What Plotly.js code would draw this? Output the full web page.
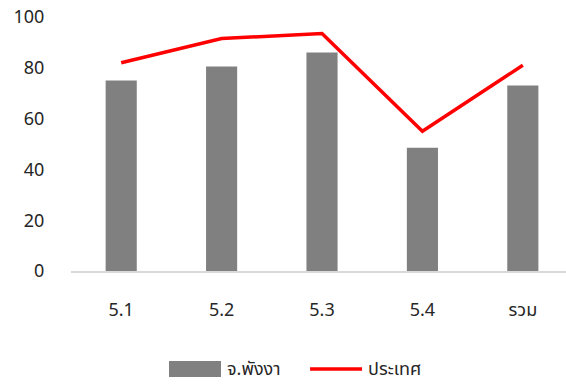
<!DOCTYPE html>
<html><head><meta charset="utf-8">
<script src="https://cdn.plot.ly/plotly-3.0.1.min.js"></script>
<style>html,body{margin:0;padding:0;background:#fff}#chart{width:566px;height:385px}</style>
</head><body><div id="chart"></div>
<script>
const categories = ["5.1", "5.2", "5.3", "5.4", "รวม"];
const phangngaValues = [75, 80.5, 86, 48.5, 73];
const countryValues = [82, 91.5, 93.5, 55, 81];
const seriesNames = ["จ.พังงา", "ประเทศ"];
const barColor = "#808080";
const lineColor = "#ff0000";

const fontFamily = "'Noto Sans Thai', 'Noto Sans', Tahoma, sans-serif";

const traces = [
  {type: "bar", x: categories, y: phangngaValues, name: seriesNames[0],
   marker: {color: barColor}, width: 0.31, showlegend: false},
  {type: "scatter", mode: "lines", x: categories, y: countryValues, name: seriesNames[1],
   line: {color: lineColor, width: 3.5}, showlegend: false}
];

// Custom legend (Excel-style wide swatches), placed in paper coordinates
const legendY = -0.386;
const shapes = [
  {type: "rect", xref: "paper", yref: "paper", x0: 0.198, x1: 0.303, y0: -0.354, y1: -0.417,
   fillcolor: barColor, line: {width: 0}},
  {type: "line", xref: "paper", yref: "paper", x0: 0.483, x1: 0.588, y0: legendY, y1: legendY,
   line: {color: lineColor, width: 3.5}}
];
const annotations = [
  {xref: "paper", yref: "paper", x: 0.311, y: legendY, xanchor: "left", yanchor: "middle",
   text: seriesNames[0], showarrow: false, font: {size: 18}},
  {xref: "paper", yref: "paper", x: 0.596, y: legendY, xanchor: "left", yanchor: "middle",
   text: seriesNames[1], showarrow: false, font: {size: 18}}
];

const layout = {
  width: 566, height: 385,
  margin: {l: 71, r: 0, t: 17, b: 114},
  paper_bgcolor: "#fff", plot_bgcolor: "#fff",
  font: {family: fontFamily, size: 18, color: "#262626"},
  showlegend: false,
  shapes: shapes,
  annotations: annotations,
  xaxis: {type: "category", range: [-0.5, 4.43], showline: true, linecolor: "#d9d9d9", linewidth: 1.5,
          showgrid: false, zeroline: false, ticks: "outside", ticklen: 22, tickcolor: "rgba(0,0,0,0)"},
  yaxis: {range: [0, 100], dtick: 20, showgrid: false, zeroline: false, showline: false,
          ticks: "outside", ticklen: 22, tickcolor: "rgba(0,0,0,0)"}
};

Plotly.newPlot("chart", traces, layout, {displayModeBar: false, staticPlot: true});
</script></body></html>
